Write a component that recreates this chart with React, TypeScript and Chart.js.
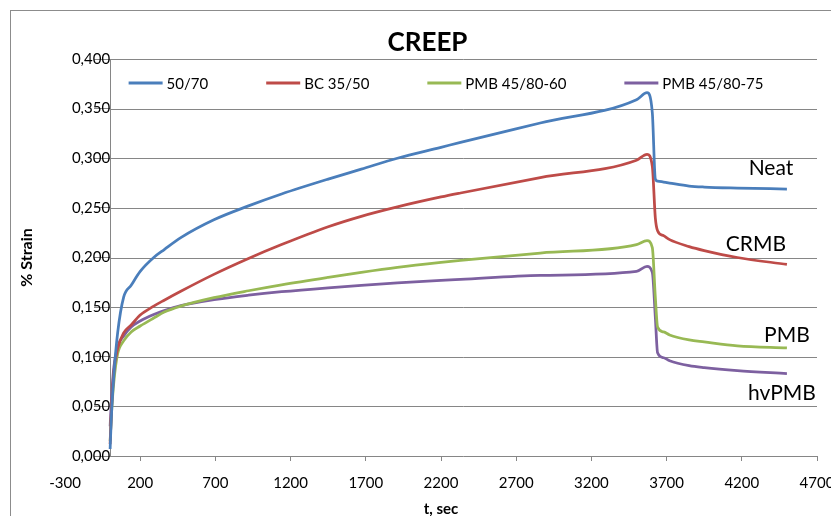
import React, { useEffect, useRef } from "react";
import { Chart, registerables } from "chart.js";

Chart.register(...registerables);

// ---- data ----
const TIME_S = [0, 10, 25, 50, 90, 140, 200, 290, 360, 470, 690, 920, 1140, 1450, 1670, 1910, 2200, 2330, 2860, 3500, 3570, 3605, 3625, 3640, 3680, 3720, 3850, 3950, 4170, 4500];

const STRAIN_50_70 = [0.007, 0.045, 0.082, 0.124, 0.160, 0.172, 0.186, 0.200, 0.208, 0.220, 0.238, 0.252, 0.264, 0.279, 0.289, 0.300, 0.311, 0.316, 0.3355, 0.359, 0.366, 0.346, 0.279, 0.277, 0.276, 0.275, 0.272, 0.271, 0.270, 0.269];
const STRAIN_BC_35_50 = [0.012, 0.050, 0.085, 0.108, 0.124, 0.132, 0.142, 0.151, 0.157, 0.166, 0.183, 0.199, 0.213, 0.231, 0.2415, 0.251, 0.261, 0.265, 0.2805, 0.298, 0.304, 0.292, 0.240, 0.227, 0.222, 0.218, 0.211, 0.207, 0.200, 0.193];
const STRAIN_PMB_60 = [0.015, 0.045, 0.075, 0.103, 0.116, 0.125, 0.131, 0.139, 0.145, 0.151, 0.1595, 0.1665, 0.1725, 0.180, 0.185, 0.190, 0.195, 0.197, 0.2045, 0.213, 0.217, 0.210, 0.160, 0.130, 0.125, 0.122, 0.117, 0.115, 0.111, 0.109];
const STRAIN_PMB_75 = [0.030, 0.060, 0.090, 0.110, 0.121, 0.130, 0.136, 0.1425, 0.1465, 0.1515, 0.1575, 0.162, 0.1655, 0.1695, 0.172, 0.1745, 0.177, 0.178, 0.182, 0.186, 0.191, 0.185, 0.140, 0.104, 0.099, 0.096, 0.091, 0.089, 0.086, 0.083];

const SERIES_LABELS = ["50/70", "BC 35/50", "PMB 45/80-60", "PMB 45/80-75"];
const SERIES_COLORS = ["#4A7EBB", "#BE4B48", "#98B954", "#7D60A0"];

const END_LABELS = ["Neat", "CRMB", "PMB", "hvPMB"];
const END_LABEL_T = [4394, 4294, 4500, 4467];
const END_LABEL_V = [0.29, 0.213, 0.1216, 0.0633];

const X_MIN = -300;
const X_MAX = 4700;
const X_STEP = 500;
const Y_MIN = 0;
const Y_MAX = 0.4;
const Y_STEP = 0.05;

const TITLE = "CREEP";
const X_TITLE = "t, sec";
const Y_TITLE = "% Strain";

const FONT = "Lato, 'Open Sans', sans-serif";
const GRID = "#868686";

const toPoints = (vals: number[]) => vals.map((v, i) => ({ x: TIME_S[i], y: v }));

const decorPlugin = {
  id: "decor",
  beforeDraw(chart: any) {
    const { ctx, width, height } = chart;
    ctx.save();
    ctx.fillStyle = "#fff";
    ctx.fillRect(0, 0, width, height);
    ctx.strokeStyle = "#8c8c8c";
    ctx.lineWidth = 1;
    ctx.strokeRect(10.5, 10.5, width + 20, height + 20);
    // chart title
    ctx.fillStyle = "#000";
    ctx.font = `bold 26px ${FONT}`;
    ctx.textAlign = "center";
    ctx.textBaseline = "middle";
    ctx.fillText(TITLE, width / 2 + 12, 43);
    ctx.restore();
  },
  beforeDatasetsDraw(chart: any) {
    const { ctx, chartArea, scales } = chart;
    const xs = scales.x;
    const ys = scales.y;
    const x0 = Math.round(xs.getPixelForValue(0)) + 0.5;
    ctx.save();
    ctx.strokeStyle = GRID;
    ctx.lineWidth = 1;
    ys.ticks.forEach((t: any) => {
      const y = Math.round(ys.getPixelForValue(t.value)) + 0.5;
      ctx.beginPath();
      ctx.moveTo(x0, y);
      ctx.lineTo(chartArea.right, y);
      ctx.stroke();
    });
    ctx.restore();
  },
  afterDatasetsDraw(chart: any) {
    const { ctx, chartArea, scales } = chart;
    const xs = scales.x;
    const ys = scales.y;
    ctx.save();
    // legend inside plot area
    ctx.font = `15px ${FONT}`;
    ctx.textBaseline = "middle";
    ctx.textAlign = "left";
    const lineW = 34;
    const gapText = 4;
    const gapItem = 58;
    const widths = SERIES_LABELS.map((l) => ctx.measureText(l).width);
    const total = widths.reduce((a, w) => a + lineW + gapText + w, 0) + gapItem * (SERIES_LABELS.length - 1);
    let x = (chartArea.left + chartArea.right) / 2 + 5 - total / 2;
    const ly = chartArea.top + 24;
    SERIES_LABELS.forEach((l, i) => {
      ctx.strokeStyle = SERIES_COLORS[i];
      ctx.lineWidth = 3;
      ctx.beginPath();
      ctx.moveTo(x, ly);
      ctx.lineTo(x + lineW, ly);
      ctx.stroke();
      ctx.fillStyle = "#000";
      ctx.fillText(l, x + lineW + gapText, ly + 1);
      x += lineW + gapText + widths[i] + gapItem;
    });
    // end labels
    ctx.font = `21px ${FONT}`;
    ctx.textAlign = "center";
    END_LABELS.forEach((l, i) => {
      ctx.fillText(l, xs.getPixelForValue(END_LABEL_T[i]), ys.getPixelForValue(END_LABEL_V[i]));
    });
    // y axis title
    ctx.font = `bold 16px ${FONT}`;
    ctx.translate(chartArea.left - 38, (chartArea.top + chartArea.bottom) / 2);
    ctx.rotate(-Math.PI / 2);
    ctx.fillText(Y_TITLE, 0, 0);
    ctx.restore();
  },
};

export default function App() {
  const ref = useRef<HTMLCanvasElement | null>(null);
  useEffect(() => {
    if (!ref.current) return;
    const chart = new Chart(ref.current, {
      type: "line",
      data: {
        datasets: [STRAIN_50_70, STRAIN_BC_35_50, STRAIN_PMB_60, STRAIN_PMB_75].map((vals, i) => ({
          label: SERIES_LABELS[i],
          data: toPoints(vals),
          borderColor: SERIES_COLORS[i],
          backgroundColor: SERIES_COLORS[i],
          borderWidth: 2.75,
          pointRadius: 0,
          cubicInterpolationMode: "monotone" as const,
          fill: false,
        })),
      },
      options: {
        animation: false,
        responsive: false,
        devicePixelRatio: 1,
        layout: { padding: { left: 65, right: 14, top: 59, bottom: 0 } },
        plugins: {
          legend: { display: false },
          tooltip: { enabled: false },
          title: { display: false },
        },
        scales: {
          x: {
            type: "linear",
            min: X_MIN,
            max: X_MAX,
            afterFit: (s: any) => {
              s.height = 60;
              s.paddingLeft = 0;
              s.paddingRight = 0;
            },
            ticks: {
              stepSize: X_STEP,
              color: "#000",
              font: { family: FONT, size: 15 },
              padding: 13,
              maxRotation: 0,
              autoSkip: false,
              callback: (v: any) => String(v),
            },
            grid: {
              drawOnChartArea: false,
              drawTicks: true,
              tickLength: 5,
              color: (c: any) => (c.tick && c.tick.value === X_MIN ? "rgba(0,0,0,0)" : GRID),
            },
            border: { display: false },
            title: {
              display: true,
              text: X_TITLE,
              color: "#000",
              font: { family: FONT, size: 15, weight: "bold", lineHeight: 1 },
              padding: { top: 0, bottom: -1 },
            },
          },
          y: {
            type: "linear",
            min: Y_MIN,
            max: Y_MAX,
            position: { x: 0 } as any,
            afterFit: (s: any) => {
              s.paddingTop = 0;
              s.paddingBottom = 0;
            },
            ticks: {
              stepSize: Y_STEP,
              color: "#000",
              font: { family: FONT, size: 15 },
              padding: 2,
              callback: (v: any) => Number(v).toFixed(3).replace(".", ","),
            },
            grid: {
              drawOnChartArea: false,
              drawTicks: true,
              tickLength: 16,
              color: GRID,
            },
            border: { display: true, color: GRID },
          },
        },
      },
      plugins: [decorPlugin],
    });
    return () => chart.destroy();
  }, []);

  return (
    <div style={{ position: "absolute", left: 0, top: 0, width: 831, height: 516 }}>
      <canvas ref={ref} width={831} height={516} />
    </div>
  );
}
